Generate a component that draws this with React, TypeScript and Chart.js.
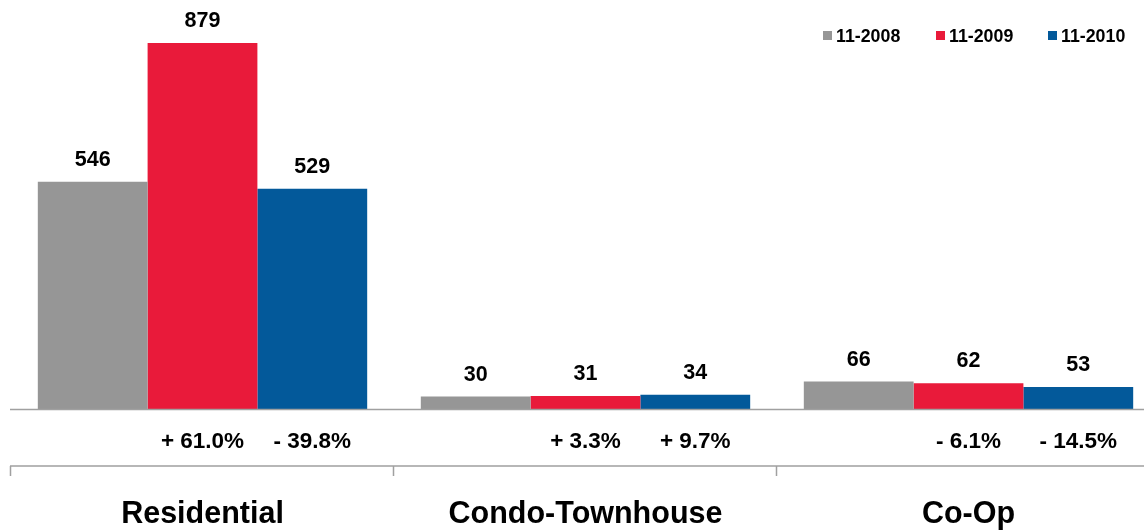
import React, { useEffect, useRef } from "react";
import { Chart, registerables } from "chart.js";

Chart.register(...registerables);

const categories = ["Residential", "Condo-Townhouse", "Co-Op"];
const seriesNames = ["11-2008", "11-2009", "11-2010"];
const values2008 = [546, 30, 66];
const values2009 = [879, 31, 62];
const values2010 = [529, 34, 53];
const changes2009 = ["+ 61.0%", "+ 3.3%", "- 6.1%"];
const changes2010 = ["- 39.8%", "+ 9.7%", "- 14.5%"];
const colors = ["#969696", "#E91A3A", "#03599A"];

const FONT = "'Liberation Sans', Arial, sans-serif";

const overlayPlugin = {
  id: "overlay",
  afterDatasetsDraw(chart: any) {
    const ctx = chart.ctx;
    const area = chart.chartArea;
    const W = chart.width;
    ctx.save();
    // baseline
    ctx.strokeStyle = "#A0A0A0";
    ctx.lineWidth = 1.5;
    ctx.beginPath();
    ctx.moveTo(10, area.bottom + 0.5);
    ctx.lineTo(W, area.bottom + 0.5);
    ctx.stroke();
    // lower separator line with ticks
    const sepY = area.bottom + 57;
    ctx.beginPath();
    ctx.moveTo(10, sepY);
    ctx.lineTo(W, sepY);
    const n = categories.length;
    const cw = (area.right - area.left) / n;
    for (let i = 0; i <= n; i++) {
      const x = Math.round(area.left + i * cw) - 0.5;
      ctx.moveTo(x, sepY);
      ctx.lineTo(x, sepY + 10);
    }
    ctx.stroke();

    // value labels
    ctx.fillStyle = "#000";
    ctx.textAlign = "center";
    ctx.textBaseline = "alphabetic";
    ctx.font = `bold 21.5px ${FONT}`;
    chart.data.datasets.forEach((ds: any, di: number) => {
      const meta = chart.getDatasetMeta(di);
      meta.data.forEach((bar: any, j: number) => {
        ctx.fillText(String(ds.data[j]), bar.x, bar.y - 16);
      });
    });

    // change labels
    ctx.font = `bold 22.5px ${FONT}`;
    const m1 = chart.getDatasetMeta(1);
    const m2 = chart.getDatasetMeta(2);
    for (let j = 0; j < n; j++) {
      ctx.fillText(changes2009[j], m1.data[j].x, area.bottom + 39);
      ctx.fillText(changes2010[j], m2.data[j].x, area.bottom + 39);
    }

    // category labels
    ctx.font = `bold 30.5px ${FONT}`;
    const xs = chart.scales.x;
    for (let j = 0; j < n; j++) {
      ctx.fillText(categories[j], xs.getPixelForValue(j), area.bottom + 114);
    }

    // legend
    ctx.font = `bold 17.8px ${FONT}`;
    ctx.textAlign = "left";
    const legendX = [823, 936, 1048];
    seriesNames.forEach((name, i) => {
      ctx.fillStyle = colors[i];
      ctx.fillRect(legendX[i], 31, 9, 9);
      ctx.fillStyle = "#000";
      ctx.fillText(name, legendX[i] + 13, 42);
    });
    ctx.restore();
  },
};

export default function App() {
  const ref = useRef<HTMLCanvasElement>(null);
  useEffect(() => {
    if (!ref.current) return;
    const chart = new Chart(ref.current, {
      type: "bar",
      data: {
        labels: categories,
        datasets: [
          { label: seriesNames[0], data: values2008, backgroundColor: colors[0] },
          { label: seriesNames[1], data: values2009, backgroundColor: colors[1] },
          { label: seriesNames[2], data: values2010, backgroundColor: colors[2] },
        ],
      },
      options: {
        responsive: false,
        animation: false,
        devicePixelRatio: 1,
        layout: { padding: { left: 11, right: 0, top: 1, bottom: 121 } },
        datasets: { bar: { categoryPercentage: 0.86, barPercentage: 1.0 } },
        scales: {
          x: { display: false, offset: true },
          y: { display: false, min: 0, max: 980 },
        },
        plugins: {
          legend: { display: false },
          tooltip: { enabled: false },
        },
      },
      plugins: [overlayPlugin],
    } as any);
    return () => chart.destroy();
  }, []);
  return (
    <div
      style={{
        position: "fixed",
        top: 0,
        left: 0,
        width: 1144,
        height: 530,
        overflow: "hidden",
        background: "#fff",
      }}
    >
      <canvas ref={ref} width={1160} height={530} style={{ display: "block" }} />
    </div>
  );
}
